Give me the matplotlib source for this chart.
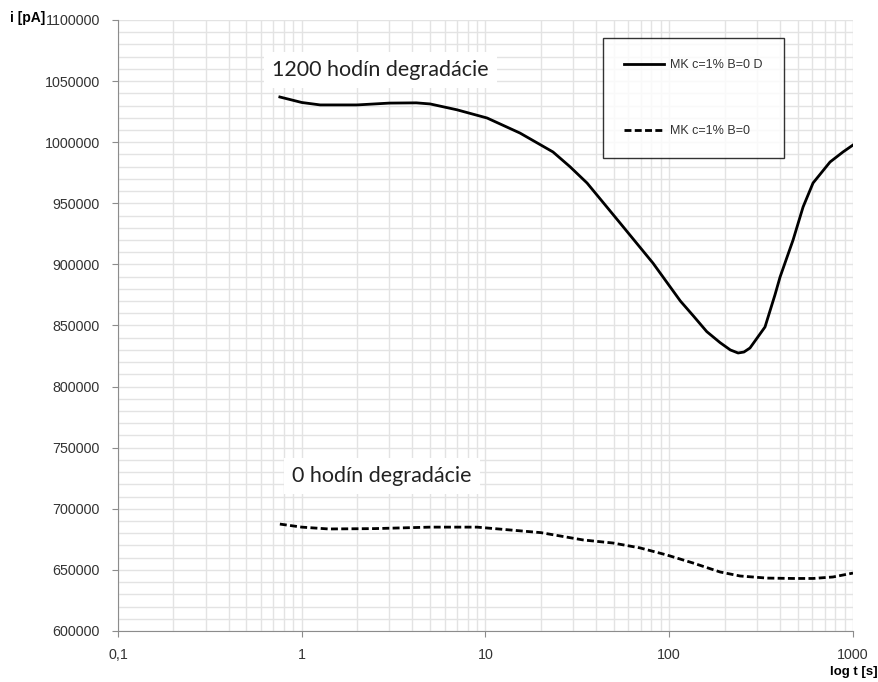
import numpy as np
from matplotlib import pyplot as plt
from matplotlib.ticker import FixedLocator, MultipleLocator, LogLocator, NullFormatter

# solid: after 1200 hours of degradation
t_deg = [0.76, 1.0, 1.26, 2.0, 3.0, 4.2, 5.0, 7.0, 10.2, 15.4, 23.3, 28.8, 35.7, 53.9,
         81.6, 115, 135, 160, 189, 215, 237, 255, 275, 332, 376, 401, 472, 535, 606,
         750, 882, 1000]
i_deg = [1037000, 1032500, 1030500, 1030500, 1032000, 1032200, 1031300, 1026500, 1019800,
         1007500, 992000, 980000, 966600, 934000, 901000, 870000, 858000, 845000, 836000,
         830000, 827500, 828300, 831600, 848800, 875000, 889700, 920000, 947000, 966600,
         983800, 992000, 997700]

# dashed: 0 hours of degradation
t_new = [0.76, 1.0, 1.4, 2.5, 5.0, 9.0, 20, 34, 49.4, 69.3, 97, 135, 189, 243, 340,
         471, 606, 778, 1000]
i_new = [687500, 685000, 683500, 683800, 685000, 685000, 680500, 674500, 672000, 668000,
         662200, 655600, 648300, 645000, 643300, 643000, 643000, 644200, 647400]

labels = ["MK c=1% B=0 D", "MK c=1% B=0"]
x_ticks = [0.1, 1, 10, 100, 1000]
x_ticklabels = ["0,1", "1", "10", "100", "1000"]

plt.rcParams['font.family'] = ['Liberation Sans', 'DejaVu Sans']

fig = plt.figure(figsize=(8.79, 6.82), dpi=100)
ax = fig.add_axes([118/879, 1 - 631/682, 735/879, 611/682])

l1, = ax.plot(t_deg, i_deg, color='black', lw=2.0, solid_joinstyle='round')
l2, = ax.plot(t_new, i_new, color='black', lw=2.0, linestyle=(0, (2.5, 1.2)))

ax.set_xscale('log')
ax.set_xlim(0.1, 1000)
ax.set_ylim(600000, 1100000)

ax.xaxis.set_major_locator(FixedLocator(x_ticks))
ax.set_xticks(x_ticks, x_ticklabels)
ax.xaxis.set_minor_locator(LogLocator(base=10, subs=np.arange(2, 10)))
ax.xaxis.set_minor_formatter(NullFormatter())
ax.yaxis.set_major_locator(MultipleLocator(50000))
ax.yaxis.set_minor_locator(MultipleLocator(10000))
ax.ticklabel_format(axis='y', style='plain')

ax.grid(which='both', color='#e3e3e3', lw=1.0)
ax.set_axisbelow(True)
for s in ['top', 'right']:
    ax.spines[s].set_visible(False)
for s in ['left', 'bottom']:
    ax.spines[s].set_color('#8c8c8c')
ax.tick_params(which='major', length=4, color='#8c8c8c', labelsize=10.3, labelcolor='#333333')
ax.tick_params(which='minor', length=0)
ax.tick_params(axis='x', pad=8)
ax.tick_params(axis='y', pad=9)

txt_kw = dict(transform=ax.transAxes, fontsize=15.5, family=['Lato', 'DejaVu Sans'],
              color='#222222', va='center', ha='left',
              bbox=dict(facecolor='white', edgecolor='none', pad=6))
ax.text(0.2095, 0.918, "1200 hodín degradácie", **txt_kw)
ax.text(0.237, 0.2537, "0 hodín degradácie", **txt_kw)

leg = ax.legend([l1, l2], labels, loc='upper left', bbox_to_anchor=(0.660, 0.9705),
                fontsize=9, frameon=True, fancybox=False, edgecolor='black',
                handlelength=3.2, handletextpad=0.45, labelspacing=4.3, borderpad=1.7,
                borderaxespad=0)
leg.get_frame().set_linewidth(1.0)
for t in leg.get_texts():
    t.set_color('#333333')

fig.text(0.011, 1 - 18/682, "i [pA]", fontsize=10, fontweight='bold', va='center', ha='left')
fig.text(0.999, 1 - 672/682, "log t [s]", fontsize=9.5, fontweight='bold', va='center', ha='right')

fig.savefig("out.png", dpi=100, facecolor='white')
